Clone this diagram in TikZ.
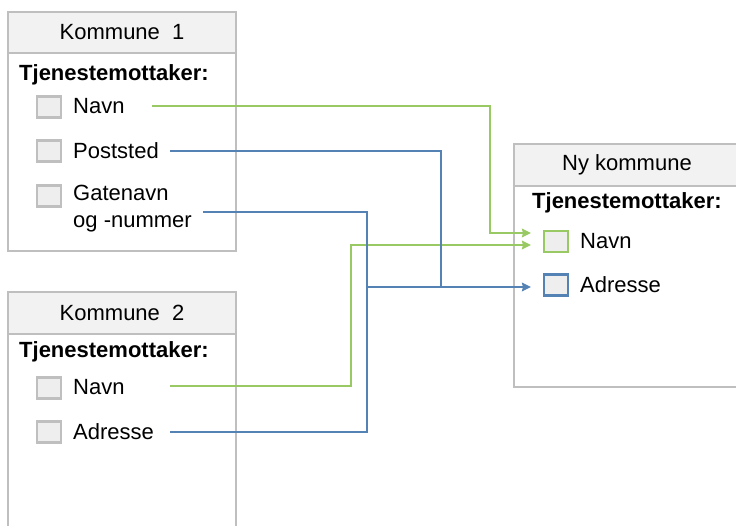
\documentclass[tikz,border=0pt]{standalone}
\usepackage{fontspec}
\setmainfont{Liberation Sans}
\usetikzlibrary{arrows.meta}
\definecolor{bordergray}{RGB}{191,191,191}
\definecolor{headfill}{RGB}{242,242,242}
\definecolor{cbfill}{RGB}{238,238,238}
\definecolor{lgreen}{RGB}{152,201,98}
\definecolor{lblue}{RGB}{84,130,180}
\tikzset{
  panel/.style={draw=bordergray, line width=2.4pt, fill=white, inner sep=0pt},
  header/.style={draw=bordergray, line width=2.4pt, fill=headfill, inner sep=0pt, font=\fontsize{22}{26}\selectfont},
  title/.style={anchor=west, inner sep=0pt, font=\bfseries\fontsize{22}{26}\selectfont},
  item/.style={anchor=west, inner sep=0pt, align=left, font=\fontsize{22}{27}\selectfont},
  cbox/.style={draw=bordergray, line width=2.8pt, fill=cbfill, minimum width=24pt, minimum height=21pt, inner sep=0pt},
  gconn/.style={draw=lgreen, line width=2.4pt},
  bconn/.style={draw=lblue, line width=2.4pt},
  tip/.style={-{Stealth[length=9pt,width=8.5pt,inset=1pt]}}
}
\begin{document}
\begin{tikzpicture}[x=1pt,y=-1pt]
\useasboundingbox (0,0) rectangle (736,526);
\clip (0,0) rectangle (736,526);

% Kommune 1
\node[panel, minimum width=228pt, minimum height=239pt] (k1) at (122,131.5) {};
\node[header, minimum width=228pt, minimum height=41pt] (k1h) at (122,32.5) {Kommune\hspace{0.55em}1};
\node[title] (k1t) at (19,75) {Tjenestemottaker:};
\node[cbox] (k1c1) at (49,107) {};
\node[cbox] (k1c2) at (49,151) {};
\node[cbox] (k1c3) at (49,196) {};
\node[item] (k1navn) at (73,106) {Navn};
\node[item] (k1post) at (73,151) {Poststed};
\node[item] (k1gate) at (73,209) {Gatenavn\\og -nummer};

% Kommune 2
\node[panel, minimum width=228pt, minimum height=260pt] (k2) at (122,422) {};
\node[header, minimum width=228pt, minimum height=42pt] (k2h) at (122,313) {Kommune\hspace{0.55em}2};
\node[title] (k2t) at (19,352) {Tjenestemottaker:};
\node[cbox] (k2c1) at (49,388) {};
\node[cbox] (k2c2) at (49,432) {};
\node[item] (k2navn) at (73,387) {Navn};
\node[item] (k2adr) at (73,432) {Adresse};

% Ny kommune
\node[panel, minimum width=226pt, minimum height=243pt] (ny) at (627,265.5) {};
\node[header, minimum width=226pt, minimum height=42pt] (nyh) at (627,165) {Ny kommune};
\node[title] (nyt) at (532,203) {Tjenestemottaker:};
\node[cbox, draw=lgreen] (nyc1) at (556,241.5) {};
\node[cbox, draw=lblue] (nyc2) at (556,285) {};
\node[item] (nynavn) at (580,241) {Navn};
\node[item] (nyadr) at (580,285) {Adresse};

% connector end points
\coordinate (s1) at (152,106);
\coordinate (s2) at (170,151);
\coordinate (s3) at (203,212);
\coordinate (s4) at (170,386);
\coordinate (s5) at (170,432);
\coordinate (t1) at (531,233);
\coordinate (t2) at (531,245);
\coordinate (t3) at (531,287);
\coordinate (j) at (367,287);

% connectors
\draw[gconn, tip] (s1) -- (490,106) -- (490,233) -- (t1);
\draw[gconn, tip] (s4) -- (351,386) -- (351,245) -- (t2);
\draw[bconn] (s2) -- (441,151) -- (441,287);
\draw[bconn] (s3) -- (367,212) -- (j);
\draw[bconn] (s5) -- (367,432) -- (j);
\draw[bconn, tip] (j) -- (t3);
\end{tikzpicture}
\end{document}
